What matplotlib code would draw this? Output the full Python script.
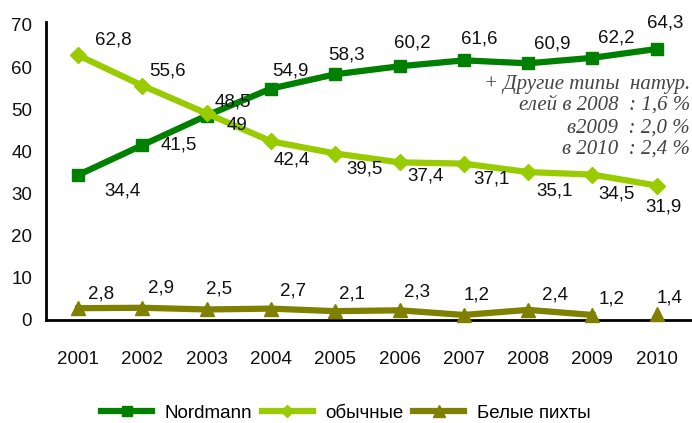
import matplotlib.pyplot as plt

years = [2001, 2002, 2003, 2004, 2005, 2006, 2007, 2008, 2009, 2010]
nordmann = [34.4, 41.5, 48.5, 54.9, 58.3, 60.2, 61.6, 60.9, 62.2, 64.3]
obychnye = [62.8, 55.6, 49.0, 42.4, 39.5, 37.4, 37.1, 35.1, 34.5, 31.9]
belye = [2.8, 2.9, 2.5, 2.7, 2.1, 2.3, 1.2, 2.4, 1.2, 1.4]

note_lines = ['+ Другие типы  натур.', 'елей в 2008  : 1,6 %', 'в2009  : 2,0 %', 'в 2010  : 2,4 %']

# label offsets in pixels (dx, dy down)
off_n = [(44, 16), (36, 0), (26, -14), (19, -18), (11, -19), (13, -23), (15, -21), (24, -19), (24, -20), (9, -26)]
off_o = [(35, -15), (25, -15), (30, 12), (21, 19), (29, 15), (26, 14), (28, 15), (26, 19), (24, 19), (7, 21)]
off_b = [(23, -14), (19, -20), (12, -20), (22, -18), (17, -17), (17, -18), (13, -20), (27, -15), (19, -16), (13, -16)]

def fmt(v):
    s = f'{v:.1f}'.replace('.', ',')
    return s[:-2] if s.endswith(',0') else s

W, H = 692, 423
plt.rcParams['font.family'] = 'Liberation Sans'
fig = plt.figure(figsize=(W / 100, H / 100), dpi=100)
ax = fig.add_axes([46 / W, 1 - 320 / H, (W - 46) / W, 298 / H])

c_n, c_o, c_b = '#008000', '#99cc00', '#808000'
ax.plot(years, nordmann, color=c_n, lw=4.5, marker='s', ms=9, label='Nordmann', clip_on=False, zorder=3)
ax.plot(years, obychnye, color=c_o, lw=4.5, marker='D', ms=8, label='обычные', clip_on=False, zorder=3)
ax.plot(years[:-1], belye[:-1], color=c_b, lw=4.5, marker='^', ms=10, label='Белые пихты', clip_on=False, zorder=3)
ax.plot(years[-1:], belye[-1:], color=c_b, lw=0, marker='^', ms=10, clip_on=False, zorder=3)

for vals, offs in [(nordmann, off_n), (obychnye, off_o), (belye, off_b)]:
    for x, v, (dx, dy) in zip(years, vals, offs):
        ax.annotate(fmt(v), (x, v), xytext=(dx * 0.72, -dy * 0.72), textcoords='offset points',
                    ha='center', va='center', fontsize=13.5, color='#111111', annotation_clip=False)

ax.set_xlim(2000.5, 2010.55)
ax.set_ylim(0, 70.7)
ax.set_xticks(years)
ax.set_yticks(range(0, 71, 10))
ax.tick_params(length=0, labelsize=13.5, colors='#111111')
ax.tick_params(axis='x', pad=22)
ax.tick_params(axis='y', pad=10)
for s in ['top', 'right']:
    ax.spines[s].set_visible(False)
ax.spines['left'].set_linewidth(2)
ax.spines['bottom'].set_linewidth(2)

ys = [84, 105, 128, 149]
for t, y in zip(note_lines, ys):
    fig.text(690 / W, 1 - y / H, t, ha='right', va='center', fontsize=15, style='italic',
             family='Liberation Serif', color='#444444')

leg = fig.legend(loc='center', bbox_to_anchor=(0.5, 1 - 413 / H), ncol=3, frameon=False,
                 fontsize=13.5, handlelength=2.7, columnspacing=0.5, handletextpad=0.7,
                 markerscale=0.8)

fig.savefig('out.png', dpi=100)
